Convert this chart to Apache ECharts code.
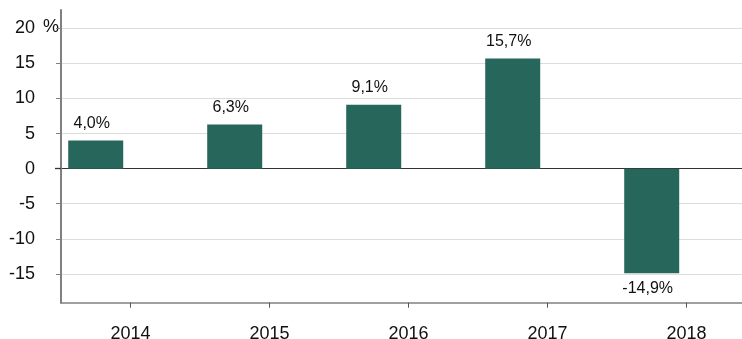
<!DOCTYPE html>
<html>
<head>
<meta charset="utf-8">
<script src="https://cdn.jsdelivr.net/npm/echarts@6/dist/echarts.min.js"></script>
<style>
  html, body { margin: 0; padding: 0; background: #ffffff; }
  #chart { width: 742px; height: 339px; }
</style>
</head>
<body>
<div id="chart"></div>
<script>
// Annual change, per cent
const years = ['2014', '2015', '2016', '2017', '2018'];
const growth = [4.0, 6.3, 9.1, 15.7, -14.9];
const yTicks = [-15, -10, -5, 0, 5, 10, 15, 20];
const unitLabel = '%';

const FONT = '"Liberation Sans", Arial, sans-serif';
const BAR = '#27665a';
const AXIS_GREY = '#808080';
const GRID_GREY = '#dcdcdc';
const ZERO = '#333333';

const fmt = v => v.toFixed(1).replace('.', ',') + '%';

const chart = echarts.init(document.getElementById('chart'), null, { renderer: 'canvas' });

chart.setOption({
  animation: false,
  backgroundColor: '#ffffff',
  textStyle: { fontFamily: FONT },
  grid: {
    left: 61, right: -14, top: 10, bottom: 36.3,
    containLabel: false, outerBoundsMode: 'none'
  },
  xAxis: {
    type: 'category',
    data: years,
    boundaryGap: true,
    axisLine: { show: true, onZero: false, lineStyle: { color: AXIS_GREY, width: 1.5 } },
    axisTick: { show: true, alignWithLabel: true, length: 5, lineStyle: { color: '#555555', width: 1 } },
    axisLabel: { color: '#111111', fontSize: 18, fontFamily: FONT, margin: 22 },
    splitLine: { show: false }
  },
  yAxis: [
    {
      type: 'value',
      min: -19.1, max: 22.6,
      axisLine: { show: true, lineStyle: { color: AXIS_GREY, width: 2 } },
      axisTick: { show: true, length: 5, customValues: yTicks, lineStyle: { color: AXIS_GREY, width: 1 } },
      axisLabel: { color: '#111111', fontSize: 18, fontFamily: FONT, margin: 26, customValues: yTicks },
      splitLine: {
        show: true,
        lineStyle: { color: yTicks.map(v => v === 0 ? ZERO : GRID_GREY), width: 1.2 }
      }
    },
    {
      type: 'value',
      position: 'left',
      min: -19.1, max: 22.6,
      axisLine: { show: false },
      axisLabel: { show: false },
      splitLine: { show: false },
      axisTick: { show: true, length: 6, customValues: [0], lineStyle: { color: ZERO, width: 1.3 } }
    }
  ],
  graphic: [{
    type: 'text',
    left: 43, top: 18,
    style: { text: unitLabel, font: '18px ' + FONT, fill: '#111111' }
  }],
  series: [
    {
      type: 'bar',
      data: growth.map(v => ({
        value: v,
        label: v < 0 ? { position: 'bottom', distance: 7 } : { position: 'top', distance: 9 }
      })),
      barWidth: 55,
      barGap: '26.5%',
      itemStyle: { color: BAR },
      label: {
        show: true,
        color: '#111111',
        fontSize: 16,
        fontFamily: FONT,
        offset: [-4, 0],
        formatter: p => fmt(p.value)
      },
      z: 3
    },
    {
      // empty companion slot, keeps each bar on the left half of its year
      type: 'bar',
      data: years.map(() => '-'),
      barWidth: 55,
      barGap: '26.5%',
      itemStyle: { color: BAR }
    }
  ]
});
</script>
</body>
</html>
